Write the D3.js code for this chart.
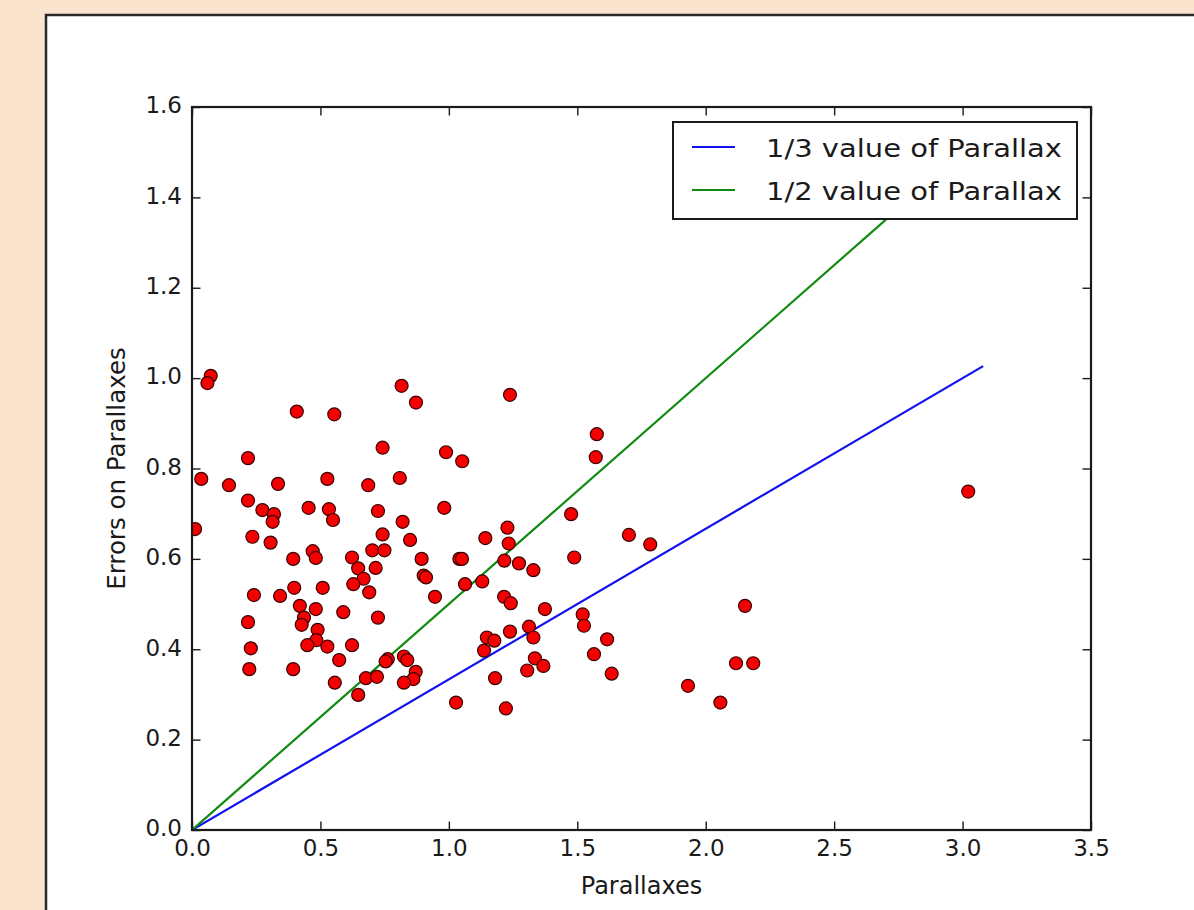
<!DOCTYPE html>
<html>
<head>
<meta charset="utf-8">
<script src="https://cdn.jsdelivr.net/npm/d3@7"></script>
<style>
  body { margin: 0; background: #fbe4cd; }
  svg { display: block; }
  text { font-family: "DejaVu Sans", sans-serif; fill: #1a1a1a; }
</style>
</head>
<body>
<div id="chart"></div>
<script>
// parallax values (x) and their errors (y)
const parallaxes = [
  0.073, 0.060, 0.816, 0.872, 0.408, 0.554, 0.742, 0.989, 1.052, 0.218,
  0.036, 0.144, 0.335, 0.527, 0.686, 0.809, 0.218, 0.274, 0.319, 0.314,
  0.454, 0.533, 0.549, 0.724, 0.982, 0.820, 0.012, 0.235, 0.306, 0.742,
  0.849, 1.142, 0.394, 0.470, 0.482, 0.623, 0.702, 0.749, 0.894, 1.041,
  1.051, 0.647, 0.715, 0.668, 0.902, 0.911, 0.398, 0.509, 0.628, 0.690,
  0.241, 0.343, 1.063, 1.130, 0.946, 0.218, 0.420, 0.482, 0.436, 0.427,
  0.589, 0.724, 0.489, 0.484, 0.449, 0.527, 0.623, 0.229, 0.573, 0.762,
  0.754, 0.825, 0.838, 0.871, 0.862, 0.825, 0.677, 0.720, 0.223, 0.394,
  0.556, 0.647, 1.028, 1.148, 1.177, 1.137, 1.180, 1.238, 1.576, 1.572,
  1.476, 1.228, 1.233, 1.216, 1.273, 1.329, 1.488, 1.701, 1.784, 1.215,
  1.241, 1.374, 1.521, 1.526, 1.312, 1.238, 1.329, 1.616, 1.565, 1.335,
  1.368, 1.305, 1.634, 1.931, 2.118, 2.185, 2.153, 2.057, 1.222, 3.022
];
const errors = [
  1.005, 0.989, 0.983, 0.946, 0.926, 0.920, 0.846, 0.836, 0.816, 0.823,
  0.777, 0.763, 0.766, 0.777, 0.763, 0.779, 0.729, 0.708, 0.699, 0.682,
  0.713, 0.710, 0.686, 0.706, 0.713, 0.682, 0.666, 0.649, 0.636, 0.654,
  0.642, 0.646, 0.600, 0.617, 0.602, 0.603, 0.619, 0.619, 0.600, 0.600,
  0.600, 0.579, 0.580, 0.556, 0.563, 0.559, 0.536, 0.536, 0.544, 0.526,
  0.520, 0.518, 0.544, 0.550, 0.516, 0.460, 0.496, 0.489, 0.470, 0.454,
  0.482, 0.470, 0.443, 0.420, 0.409, 0.406, 0.409, 0.402, 0.376, 0.378,
  0.373, 0.384, 0.376, 0.350, 0.334, 0.326, 0.336, 0.339, 0.356, 0.356,
  0.326, 0.299, 0.282, 0.426, 0.419, 0.397, 0.336, 0.963, 0.876, 0.825,
  0.699, 0.669, 0.634, 0.596, 0.590, 0.575, 0.603, 0.653, 0.632, 0.516,
  0.502, 0.489, 0.477, 0.452, 0.450, 0.439, 0.426, 0.422, 0.389, 0.380,
  0.363, 0.353, 0.346, 0.319, 0.369, 0.369, 0.496, 0.282, 0.269, 0.749
];

// reference lines
const lineX = [0, 3.08];
const lineSeries = [
  { name: '1/3 value of Parallax', factor: 1 / 3, color: '#1010f0' },
  { name: '1/2 value of Parallax', factor: 1 / 2, color: '#108a10' }
];

const xTicks = [0, 0.5, 1.0, 1.5, 2.0, 2.5, 3.0, 3.5];
const yTicks = [0, 0.2, 0.4, 0.6, 0.8, 1.0, 1.2, 1.4, 1.6];

const W = 1194, H = 910;
const margin = { top: 107, right: 103, bottom: 80, left: 192 };
const width = W - margin.left - margin.right;
const height = H - margin.top - margin.bottom;

const svg = d3.select('#chart').append('svg')
  .attr('width', W)
  .attr('height', H);

// beige page and white figure panel
svg.append('rect').attr('width', W).attr('height', H).attr('fill', '#fbe4cd');
svg.append('rect')
  .attr('x', 46).attr('y', 15)
  .attr('width', W).attr('height', H)
  .attr('fill', '#fff')
  .attr('stroke', '#2a2a2a')
  .attr('stroke-width', 2.5);

const g = svg.append('g')
  .attr('transform', `translate(${margin.left}, ${margin.top})`);

const x = d3.scaleLinear().domain([0, 3.5]).range([0, width]);
const y = d3.scaleLinear().domain([0, 1.6]).range([height, 0]);

g.append('clipPath').attr('id', 'plot-clip')
  .append('rect').attr('width', width).attr('height', height);

const plot = g.append('g').attr('clip-path', 'url(#plot-clip)');

// lines
lineSeries.forEach(s => {
  const line = d3.line()
    .x(d => x(d))
    .y(d => y(d * s.factor));
  plot.append('path')
    .datum(lineX)
    .attr('d', line)
    .attr('fill', 'none')
    .attr('stroke', s.color)
    .attr('stroke-width', 2.2);
});

// scatter points
const points = parallaxes.map((p, i) => ({ p: p, e: errors[i] }));
plot.selectAll('.pt')
  .data(points)
  .enter()
  .append('circle')
  .attr('class', 'pt')
  .attr('cx', d => x(d.p))
  .attr('cy', d => y(d.e))
  .attr('r', 6.5)
  .attr('fill', '#f50000')
  .attr('stroke', '#3a0000')
  .attr('stroke-width', 1.2);

// axes: ticks inside on all four sides
const tickLen = 8.5;
const axisStyle = sel => {
  sel.select('.domain').remove();
  sel.selectAll('.tick line').attr('stroke', '#1a1a1a').attr('stroke-width', 1.4);
  sel.selectAll('.tick text').attr('fill', '#1a1a1a').style('font-size', '23px');
};

g.append('g')
  .attr('transform', `translate(0, ${height})`)
  .call(d3.axisBottom(x).tickValues(xTicks).tickSizeInner(-tickLen).tickSizeOuter(0)
    .tickPadding(10).tickFormat(d3.format('.1f')))
  .call(axisStyle);

g.append('g')
  .call(d3.axisTop(x).tickValues(xTicks).tickSizeInner(-tickLen).tickSizeOuter(0)
    .tickFormat(''))
  .call(axisStyle);

g.append('g')
  .call(d3.axisLeft(y).tickValues(yTicks).tickSizeInner(-tickLen).tickSizeOuter(0)
    .tickPadding(10).tickFormat(d3.format('.1f')))
  .call(axisStyle)
  .selectAll('.tick text').attr('dy', '0.25em');

g.append('g')
  .attr('transform', `translate(${width}, 0)`)
  .call(d3.axisRight(y).tickValues(yTicks).tickSizeInner(-tickLen).tickSizeOuter(0)
    .tickFormat(''))
  .call(axisStyle);

// frame
g.append('rect')
  .attr('width', width).attr('height', height)
  .attr('fill', 'none')
  .attr('stroke', '#1a1a1a')
  .attr('stroke-width', 2.2);

// axis labels
g.append('text')
  .attr('x', width / 2)
  .attr('y', height + 64)
  .attr('text-anchor', 'middle')
  .style('font-size', '24px')
  .text('Parallaxes');

g.append('text')
  .attr('transform', `translate(${-67}, ${height / 2}) rotate(-90)`)
  .attr('text-anchor', 'middle')
  .style('font-size', '24.5px')
  .text('Errors on Parallaxes');

// legend
const legend = svg.append('g').attr('transform', 'translate(673, 122)');
legend.append('rect')
  .attr('width', 404).attr('height', 97)
  .attr('fill', '#fff')
  .attr('stroke', '#1a1a1a')
  .attr('stroke-width', 2);

lineSeries.forEach((s, i) => {
  const cy = 25 + i * 43;
  legend.append('line')
    .attr('x1', 19).attr('x2', 62)
    .attr('y1', cy).attr('y2', cy)
    .attr('stroke', s.color)
    .attr('stroke-width', 2.2);
  legend.append('text')
    .attr('x', 93)
    .attr('y', cy + 10)
    .attr('textLength', 296)
    .attr('lengthAdjust', 'spacingAndGlyphs')
    .style('font-size', '24.5px')
    .text(s.name);
});
</script>
</body>
</html>
